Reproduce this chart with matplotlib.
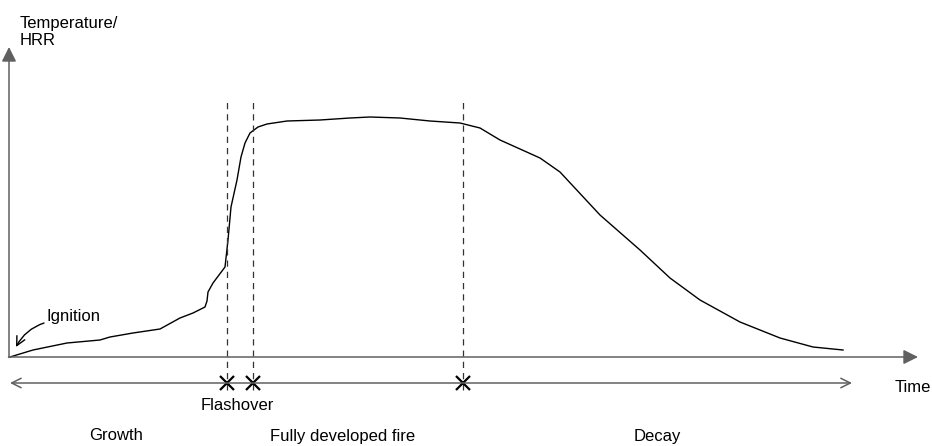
import matplotlib.pyplot as plt

plt.rcParams['font.family'] = ['Liberation Sans', 'DejaVu Sans']

# curve (time units, temperature units)
time = [1, 24, 58, 91, 101, 124, 151, 171, 184, 196, 198, 199, 204, 210,
        216, 219, 222, 228, 232, 236, 241, 249, 258, 278, 311, 341, 361,
        391, 421, 451, 471, 491, 531, 551, 591, 631, 661, 691, 731, 771,
        804, 834]
temp = [0, 7, 14, 17, 20, 24, 28, 39, 44, 50, 56, 65, 74, 82,
        90, 117, 150, 177, 200, 214, 224, 230, 233, 236, 237, 239, 240,
        239, 236, 234, 229, 217, 199, 185, 142, 107, 79, 57, 35, 19,
        10, 7]

phase_edges = [218, 244, 454]
phase_names = ['Growth', 'Fully developed fire', 'Decay']
phase_centres = [107, 334, 648]
time_end = 843

fig = plt.figure(figsize=(9.32, 4.46), dpi=100)
ax = fig.add_axes([0, 0, 1, 1])
ax.set_xlim(-9, 923)
ax.set_ylim(-89, 357)
ax.axis('off')

grey = '#606060'
# axes with filled arrow heads
ax.annotate('', xy=(0, 310), xytext=(0, -0.5),
            arrowprops=dict(arrowstyle='-|>', color=grey, lw=1.1,
                            mutation_scale=22, shrinkA=0, shrinkB=0))
ax.annotate('', xy=(909, 0), xytext=(-0.5, 0),
            arrowprops=dict(arrowstyle='-|>', color=grey, lw=1.1,
                            mutation_scale=22, shrinkA=0, shrinkB=0))

ax.plot(time, temp, color='black', lw=1.0)

# phase boundaries
for xe in phase_edges:
    ax.plot([xe, xe], [-33, 256], color='#333333', lw=0.9, ls=(0, (5, 4)))
    ax.plot(xe, -26, marker='x', color='black', ms=9.5, mew=1.6)

# time span arrow
ax.annotate('', xy=(time_end, -26), xytext=(1, -26),
            arrowprops=dict(arrowstyle='<->', color=grey, lw=1.1,
                            mutation_scale=17, shrinkA=0, shrinkB=0))

fs = 12
ax.text(11, 325, 'Temperature/\nHRR', fontsize=fs, va='center', ha='left',
        linespacing=1.15)
ax.text(886, -31, 'Time', fontsize=fs, va='center', ha='left')
ax.text(228, -49, 'Flashover', fontsize=fs, va='center', ha='center')
for name, xc in zip(phase_names, phase_centres):
    ax.text(xc, -79, name, fontsize=fs, va='center', ha='center')

ax.text(38, 40, 'Ignition', fontsize=fs, va='center', ha='left')
ax.annotate('', xy=(7, 10), xytext=(35, 34),
            arrowprops=dict(arrowstyle='->', color='black', lw=1.0,
                            mutation_scale=16, shrinkA=0, shrinkB=0,
                            connectionstyle='arc3,rad=0.2'))

plt.savefig('out.png', dpi=100)
